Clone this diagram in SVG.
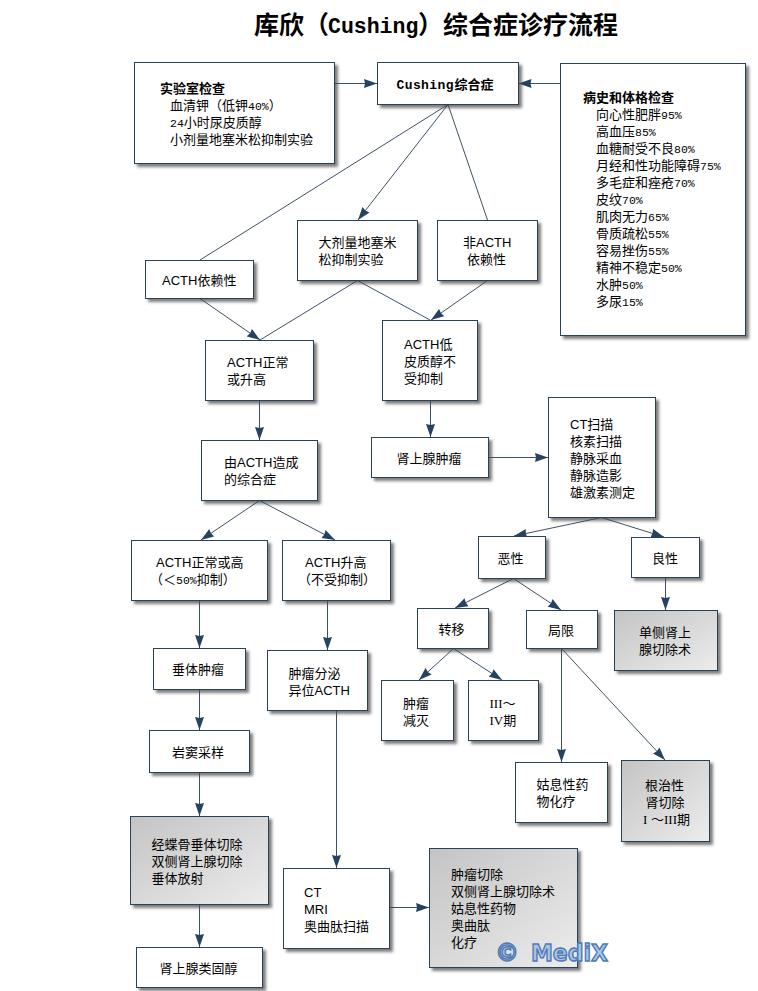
<svg xmlns="http://www.w3.org/2000/svg" width="758" height="991" viewBox="0 0 758 991">
<style>
text{font-family:"Liberation Sans","Noto Sans CJK SC",sans-serif;font-size:13px;fill:#000}
.b{font-family:"Noto Sans CJK SC",sans-serif;font-weight:700}
.m{font-family:"Liberation Mono","Noto Sans CJK SC",monospace;font-size:11.5px}
.s{font-family:"Liberation Serif","Noto Sans CJK SC",serif}
.t{font-family:"Noto Sans CJK SC",sans-serif;font-weight:700;font-size:25px}
.tm{font-family:"Liberation Mono",monospace;font-weight:700;font-size:21.5px}
.cm{font-family:"Liberation Mono",monospace;font-weight:700;font-size:13px;letter-spacing:.4px}
rect{fill:#fff;stroke:#2c4258;stroke-width:1;filter:url(#sh)}
rect.g{fill:url(#gr)}
#connectors path{fill:none;stroke:#3c5168;stroke-width:1}
#connectors path.a{marker-end:url(#ar)}
.w{font-family:"DejaVu Sans",sans-serif;font-weight:700;font-size:23px;fill:#a8c4e6;stroke:#4f7ab2;stroke-width:1.4px}
</style>
<defs>
<filter id="sh" x="-10%" y="-10%" width="125%" height="125%"><feDropShadow dx="3" dy="3" stdDeviation="1.6" flood-color="#444" flood-opacity=".7"/></filter>
<linearGradient id="gr" x1="0" y1="0" x2="1" y2="1"><stop offset="0" stop-color="#c4c4c4"/><stop offset="1" stop-color="#ececec"/></linearGradient>
<marker id="ar" markerUnits="userSpaceOnUse" markerWidth="14" markerHeight="10" refX="13" refY="5" orient="auto"><path d="M0 .5L13 5L0 9.5L1 5Z" fill="#264263"/></marker>
</defs>
<rect width="758" height="991" style="fill:#fff;stroke:none;filter:none"/>
<text class="t" x="254" y="34">库欣（</text><text class="tm" x="328" y="33">Cushing</text><text class="t" x="418" y="34">）综合症诊疗流程</text>
<g id="connectors">
<path class="a" d="M335 83.5H377"/>
<path class="a" d="M560 83.5H518.5"/>
<path d="M448 104.5L200 260"/>
<path class="a" d="M448 104.5L358 220"/>
<path d="M448 104.5L487.5 220"/>
<path class="a" d="M200 298.5L260 340"/>
<path d="M357.5 280.5L260 340"/>
<path d="M357.5 280.5L430 320"/>
<path class="a" d="M487.5 280.5L431 320"/>
<path class="a" d="M259.5 400.5V440"/>
<path class="a" d="M430.5 400.5V437"/>
<path class="a" d="M488.5 457.5H548"/>
<path class="a" d="M259.5 500.5L201 540"/>
<path class="a" d="M259.5 500.5L335 540"/>
<path class="a" d="M199.5 600.5V648"/>
<path class="a" d="M327.5 600.5V650"/>
<path class="a" d="M601.5 517.5L514 536"/>
<path class="a" d="M601.5 517.5L664 537"/>
<path class="a" d="M513.5 578.5L455 608"/>
<path class="a" d="M513.5 578.5L561 610"/>
<path class="a" d="M665.5 577.5V610"/>
<path class="a" d="M453.5 648.5L419 680"/>
<path class="a" d="M453.5 648.5L502 680"/>
<path class="a" d="M561.5 648.5V762"/>
<path class="a" d="M561.5 648.5L665 760"/>
<path class="a" d="M199.5 689.5V730"/>
<path class="a" d="M199.5 772.5V816"/>
<path class="a" d="M199.5 904.5V947"/>
<path class="a" d="M336.5 710.5V868"/>
<path class="a" d="M389.5 907.5H429"/>
</g>
<g id="lab"><rect x="134.5" y="62.5" width="200" height="101"/><text class="b" x="160" y="93">实验室检查</text><text x="170" y="110">血清钾（低钾<tspan class="m">40%</tspan>）</text><text x="170" y="127"><tspan class="m">24</tspan>小时尿皮质醇</text><text x="170" y="144">小剂量地塞米松抑制实验</text></g>
<g id="cushing"><rect x="377.5" y="62.5" width="141" height="42"/><text class="cm" x="396.5" y="89">Cushing</text><text class="b" x="454.5" y="89">综合症</text></g>
<g id="history"><rect x="560.5" y="63.5" width="185" height="272"/><text class="b" x="583" y="102">病史和体格检查</text>
<text x="596" y="119">向心性肥胖<tspan class="m">95%</tspan></text><text x="596" y="136">高血压<tspan class="m">85%</tspan></text><text x="596" y="153">血糖耐受不良<tspan class="m">80%</tspan></text><text x="596" y="170">月经和性功能障碍<tspan class="m">75%</tspan></text><text x="596" y="187">多毛症和痤疮<tspan class="m">70%</tspan></text><text x="596" y="204">皮纹<tspan class="m">70%</tspan></text><text x="596" y="221">肌肉无力<tspan class="m">65%</tspan></text><text x="596" y="238">骨质疏松<tspan class="m">55%</tspan></text><text x="596" y="255">容易挫伤<tspan class="m">55%</tspan></text><text x="596" y="272">精神不稳定<tspan class="m">50%</tspan></text><text x="596" y="289">水肿<tspan class="m">50%</tspan></text><text x="596" y="306">多尿<tspan class="m">15%</tspan></text></g>
<g id="acth-dep"><rect x="145.5" y="260.5" width="108" height="38"/><text x="162" y="285">ACTH依赖性</text></g>
<g id="dex-high"><rect x="297.5" y="220.5" width="120" height="60"/><text x="318.5" y="247">大剂量地塞米</text><text x="318.5" y="264">松抑制实验</text></g>
<g id="non-acth"><rect x="437.5" y="220.5" width="100" height="60"/><text x="463" y="247">非ACTH</text><text x="467" y="264">依赖性</text></g>
<g id="acth-normal"><rect x="205.5" y="340.5" width="108" height="60"/><text x="227" y="367">ACTH正常</text><text x="227" y="384">或升高</text></g>
<g id="acth-low"><rect x="382.5" y="320.5" width="95" height="80"/><text x="404" y="349">ACTH低</text><text x="404" y="366">皮质醇不</text><text x="404" y="383">受抑制</text></g>
<g id="adrenal-tumor"><rect x="371.5" y="437.5" width="117" height="40"/><text x="396.5" y="463">肾上腺肿瘤</text></g>
<g id="ct-scan"><rect x="548.5" y="397.5" width="107" height="120"/><text x="570" y="429">CT扫描</text><text x="570" y="446">核素扫描</text><text x="570" y="463">静脉采血</text><text x="570" y="480">静脉造影</text><text x="570" y="497">雄激素测定</text></g>
<g id="by-acth"><rect x="201.5" y="440.5" width="116" height="60"/><text x="224" y="467">由ACTH造成</text><text x="224" y="484">的综合症</text></g>
<g id="acth-normal-high"><rect x="131.5" y="540.5" width="136" height="60"/><text x="156" y="567">ACTH正常或高</text><text x="150" y="584">（＜<tspan class="m">50%</tspan>抑制）</text></g>
<g id="acth-high"><rect x="282.5" y="540.5" width="108" height="60"/><text x="305" y="567">ACTH升高</text><text x="298" y="584">（不受抑制）</text></g>
<g id="malignant"><rect x="478.5" y="536.5" width="67" height="42"/><text x="497.5" y="563">恶性</text></g>
<g id="benign"><rect x="631.5" y="537.5" width="68" height="40"/><text x="652" y="563">良性</text></g>
<g id="metastasis"><rect x="417.5" y="608.5" width="71" height="40"/><text x="438.5" y="634">转移</text></g>
<g id="local"><rect x="526.5" y="610.5" width="71" height="38"/><text x="548" y="635">局限</text></g>
<g id="unilateral"><rect class="g" x="614.5" y="610.5" width="103" height="60"/><text x="639" y="637">单侧肾上</text><text x="639" y="654">腺切除术</text></g>
<g id="debulk"><rect x="381.5" y="680.5" width="72" height="60"/><text x="403" y="708">肿瘤</text><text x="403" y="725">减灭</text></g>
<g id="stage34"><rect x="468.5" y="680.5" width="70" height="60"/><text x="489.5" y="708"><tspan class="s">III</tspan>～</text><text x="489.5" y="725"><tspan class="s">IV</tspan>期</text></g>
<g id="palliative"><rect x="515.5" y="762.5" width="92" height="60"/><text x="536.5" y="789">姑息性药</text><text x="536.5" y="806">物化疗</text></g>
<g id="radical"><rect class="g" x="621.5" y="760.5" width="88" height="81"/><text x="645" y="790">根治性</text><text x="645.5" y="807">肾切除</text><text x="643" y="824"><tspan class="s">I</tspan> ～<tspan class="s">III</tspan>期</text></g>
<g id="pituitary"><rect x="153.5" y="648.5" width="92" height="41"/><text x="172" y="674">垂体肿瘤</text></g>
<g id="ectopic"><rect x="267.5" y="650.5" width="100" height="60"/><text x="288.5" y="678">肿瘤分泌</text><text x="288.5" y="695">异位ACTH</text></g>
<g id="sinus"><rect x="149.5" y="730.5" width="100" height="42"/><text x="172" y="757">岩窦采样</text></g>
<g id="transsphenoidal"><rect class="g" x="130.5" y="816.5" width="138" height="88"/><text x="151.5" y="849">经蝶骨垂体切除</text><text x="151.5" y="866">双侧肾上腺切除</text><text x="151.5" y="883">垂体放射</text></g>
<g id="steroid"><rect x="136.5" y="947.5" width="126" height="40"/><text x="159.5" y="973">肾上腺类固醇</text></g>
<g id="ct-mri"><rect x="283.5" y="868.5" width="106" height="80"/><text x="304" y="897">CT</text><text x="304" y="914">MRI</text><text x="304" y="931">奥曲肽扫描</text></g>
<g id="tumor-resect"><rect class="g" x="429.5" y="848.5" width="148" height="119"/><text x="451" y="879">肿瘤切除</text><text x="451" y="896">双侧肾上腺切除术</text><text x="451" y="913">姑息性药物</text><text x="451" y="930">奥曲肽</text><text x="451" y="947">化疗</text></g>
<text class="w" x="495" y="961" style="font-size:24px">©</text><text class="w" x="531" y="961" textLength="77" lengthAdjust="spacingAndGlyphs">MediX</text>
</svg>
